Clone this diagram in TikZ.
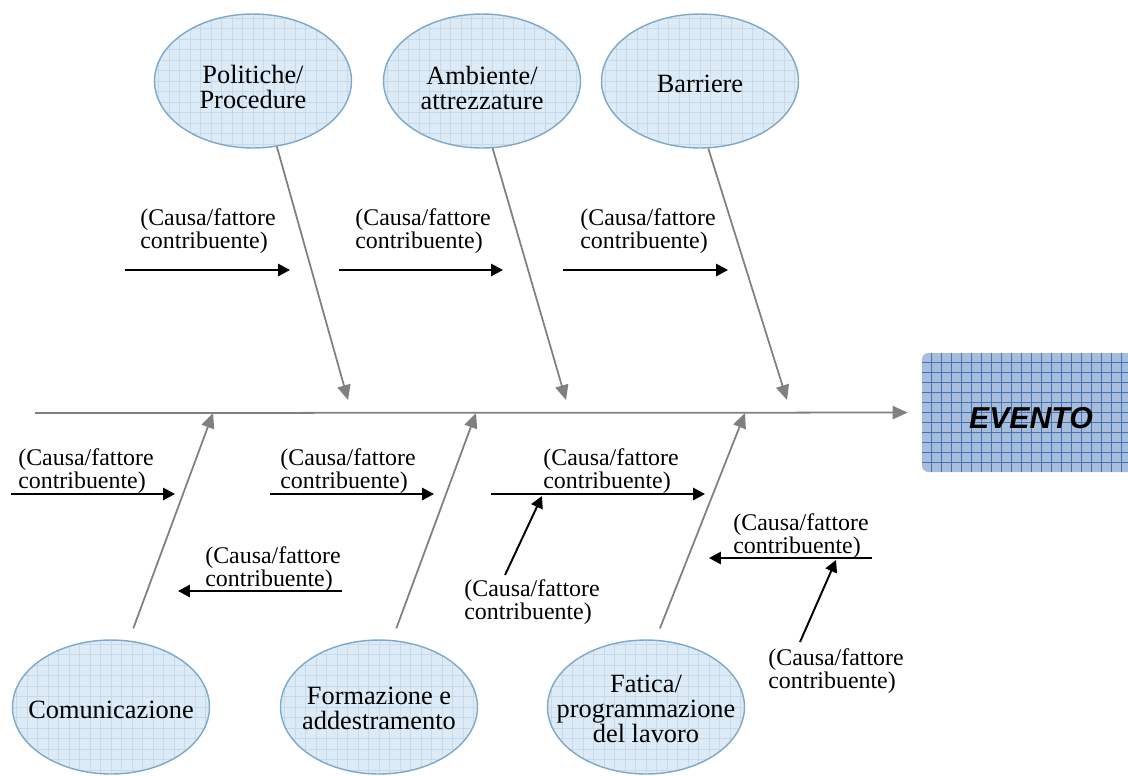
\documentclass[tikz,border=0pt]{standalone}
\usepackage{fontspec}
\setmainfont{Liberation Serif}
\newfontfamily\arialfont{Liberation Sans}
\usetikzlibrary{shapes.geometric,arrows.meta}
\definecolor{catfill}{HTML}{DDEBF6}
\definecolor{catgrid}{HTML}{C6DAEC}
\definecolor{catedge}{HTML}{7FA7C7}
\definecolor{evfill}{HTML}{A6BDDC}
\definecolor{evgrid}{HTML}{4472B2}
\definecolor{bonegray}{HTML}{808080}
\begin{document}
\begin{tikzpicture}[x=0.02cm,y=-0.02cm,
	cat/.style={ellipse,draw=catedge,line width=0.8pt,fill=catfill,minimum width=3.94cm,minimum height=2.68cm,inner sep=0pt,
		path picture={\draw[catgrid,line width=0.4pt,step=0.21cm] (path picture bounding box.south west) grid (path picture bounding box.north east);}},
	cattext/.style={align=center,inner sep=0pt,font=\fontsize{15}{14.2}\selectfont},
	evento/.style={rectangle,rounded corners=3.5pt,fill=evfill,minimum width=4.36cm,minimum height=2.38cm,inner sep=0pt,
		path picture={\draw[evgrid,line width=0.5pt,step=0.2cm] (path picture bounding box.south west) grid (path picture bounding box.north east);}},
	cause/.style={align=left,anchor=west,inner sep=0pt,font=\fontsize{13.6}{12.8}\selectfont},
	bone/.style={draw=bonegray,line width=1pt,-{Triangle[length=8.5pt,width=7.5pt]}},
	sub/.style={line width=1.1pt,-{Triangle[length=6.8pt,width=7pt]}}]
	\useasboundingbox (0,0) rectangle (1128,775);
	\clip (0,0) rectangle (1128,775);
	\node[cat] (pol) at (253,81) {};
	\node[cat] (amb) at (482,81) {};
	\node[cat] (bar) at (700,81) {};
	\node[cat] (com) at (111,707) {};
	\node[cat] (for) at (379,707) {};
	\node[cat] (fat) at (646,707) {};
	\node[cattext] (polT) at (253,87) {Politiche/\\Procedure};
	\node[cattext] (ambT) at (482,88) {Ambiente/\\attrezzature};
	\node[cattext] (barT) at (700,84) {Barriere};
	\node[cattext] (comT) at (111,710) {Comunicazione};
	\node[cattext] (forT) at (379,708) {Formazione e\\addestramento};
	\node[cattext] (fatT) at (646,709) {Fatica/\\programmazione\\del lavoro};
	\node[evento] (ev) at (1031,412.5) {};
	\node[font=\arialfont\bfseries\itshape\fontsize{17.2}{20}\selectfont,inner sep=0pt] (evT) at (1031,418) {EVENTO};
	\coordinate (spine) at (35,413);
	\draw[bone,shorten >=8pt] (spine) -- (ev);
	\coordinate (polEnd) at (348,400);
	\coordinate (ambEnd) at (566,400);
	\coordinate (barEnd) at (787,400);
	\coordinate (comEnd) at (213,413);
	\coordinate (forEnd) at (476,413);
	\coordinate (fatEnd) at (745,413);
	\draw[bone] (pol.-70) -- (polEnd);
	\draw[bone] (amb.-81) -- (ambEnd);
	\draw[bone] (bar.-83) -- (barEnd);
	\draw[bone,shorten <=7.3pt] (com.75) -- (comEnd);
	\draw[bone,shorten <=7pt] (for.79) -- (forEnd);
	\draw[bone,shorten <=6.9pt] (fat.82) -- (fatEnd);
	\foreach \x/\y [count=\i] in {140/231,355/231,580/231,18/471,280/471,543/471,205/569,733/536,464/602,768/671}
	\node[cause] (c\i) at (\x,\y) {(Causa/fattore\\contribuente)};
	\foreach \a/\b/\y [count=\i] in {125/290/270,339/503/270,563/728/270,11/175/494,270/434/494,491/705/494,342/178/591,872/709/558}
	{\coordinate (s\i) at (\a,\y); \coordinate (t\i) at (\b,\y); \draw[sub] (s\i) -- (t\i);}
	\coordinate (d1) at (505,575); \coordinate (e1) at (542,496);
	\coordinate (d2) at (800,642); \coordinate (e2) at (836,560);
	\draw[sub] (d1) -- (e1);
	\draw[sub] (d2) -- (e2);
\end{tikzpicture}
\end{document}
